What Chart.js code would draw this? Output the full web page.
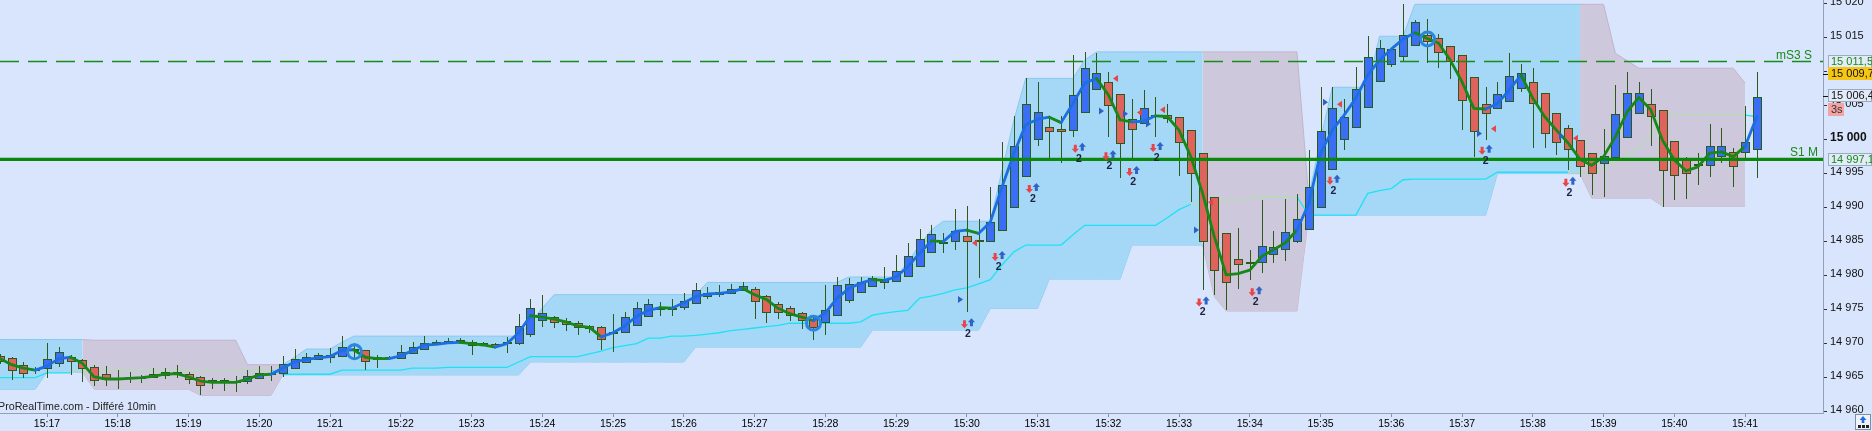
<!DOCTYPE html>
<html lang="fr">
<head>
<meta charset="utf-8">
<title>ProRealTime - 10s</title>
<script src="https://cdn.jsdelivr.net/npm/chart.js@4.4.1/dist/chart.umd.min.js"></script>
<style>
html,body{margin:0;padding:0;background:#d9e5fc;overflow:hidden;}
#box{position:relative;width:1872px;height:431px;}
canvas{display:block;}
</style>
</head>
<body>
<div id="box"><canvas id="chart" width="1872" height="431"></canvas></div>
<script>
const FONT = "'Liberation Sans', Arial, Helvetica, sans-serif";

// ---------- DATA ----------
const startTime = '15:16:20';
const stepSeconds = 10;
const timeTicks = ['15:17','15:18','15:19','15:20','15:21','15:22','15:23','15:24','15:25','15:26','15:27','15:28','15:29','15:30','15:31','15:32','15:33','15:34','15:35','15:36','15:37','15:38','15:39','15:40','15:41'];
const priceTicks = [14960,14965,14970,14975,14980,14985,14990,14995,15000,15005,15010,15015,15020];

const open = [
14968.2,14967.9,14966.9,14966.1,14966.2,14967.0,14968.1,14967.6,14966.6,14965.6,
14965.0,14964.9,14964.9,14964.9,14965.2,14965.7,14965.6,14965.1,14964.6,14964.6,
14964.4,14964.3,14964.8,14965.6,14965.5,14966.2,14967.1,14967.6,14967.9,14968.0,
14969.1,14969.1,14968.1,14967.9,14967.8,14968.5,14969.1,14969.9,14969.9,14970.2,
14970.2,14970.0,14969.9,14969.9,14970.0,14971.2,14973.3,14973.9,14973.4,14973.1,
14972.6,14972.4,14971.6,14971.5,14972.6,14973.9,14974.9,14975.0,14975.2,14975.8,
14976.8,14977.1,14977.3,14977.7,14978.0,14977.0,14975.8,14975.2,14974.5,14973.6,
14973.1,14974.0,14976.3,14977.5,14978.3,14978.9,14979.0,14979.8,14981.3,14983.4,
14984.8,14984.9,14985.8,14985.3,14985.0,14986.5,14989.9,14994.5,14999.9,15001.9,
15001.5,15001.3,15003.9,15007.3,15008.4,15006.7,15003.0,15002.3,15003.6,15003.6,
15003.3,15001.4,14998.1,14991.6,14986.2,14982.5,14982.0,14981.8,14983.1,14983.7,
14985.0,14986.7,14989.9,14995.6,15000.0,15001.7,15004.6,15008.4,15011.0,15012.1,
15013.8,15015.4,15014.9,15013.8,15012.5,15009.2,15005.2,15004.5,15005.6,15007.4,
15008.5,15006.9,15003.9,15001.7,15000.0,14998.0,14996.4,14997.3,15000.3,15003.8,
15005.3,15004.4,14999.8,14997.0,14996.3,14996.1,14997.5,14998.2,14998.0,14998.5];

const high = [
14968.5,14968.1,14967.3,14966.5,14970.1,14969.5,14968.3,14967.8,14966.8,14966.7,
14966.1,14965.8,14965.4,14966.4,14966.4,14966.9,14965.9,14965.3,14965.0,14964.9,
14965.2,14966.1,14966.7,14966.7,14968.2,14969.2,14968.6,14968.6,14969.3,14971.1,
14970.1,14969.1,14968.3,14968.2,14969.8,14970.3,14971.1,14970.5,14970.8,14970.8,
14970.6,14970.3,14970.1,14971.0,14974.4,14976.6,14977.2,14974.1,14973.7,14973.3,
14972.8,14972.6,14974.4,14974.6,14976.1,14976.6,14976.1,14976.5,14977.5,14978.9,
14978.3,14978.6,14978.7,14979.0,14978.3,14977.2,14976.1,14975.5,14974.6,14974.2,
14978.6,14979.8,14979.6,14979.8,14980.0,14981.3,14983.0,14984.8,14986.9,14987.5,
14986.2,14989.8,14990.2,14988.3,14993.1,14999.7,15003.5,15009.0,15008.4,15003.5,
15003.5,15012.4,15012.9,15012.7,15009.9,15006.7,15006.0,15007.3,15006.2,15005.2,
15003.3,15001.4,14998.1,14991.6,14986.2,14987.0,14983.8,14991.1,14986.6,14991.2,
14992.0,14998.5,15007.7,15007.7,15005.9,15010.7,15015.2,15014.6,15013.3,15019.9,
15017.6,15017.8,15015.6,15013.8,15012.5,15009.2,15007.7,15008.4,15012.7,15011.1,
15010.5,15006.9,15003.9,15002.2,15000.0,14998.0,15001.5,15008.0,15010.0,15008.5,
15007.4,15004.4,14999.8,14997.5,14998.0,15002.3,15001.7,14998.7,15004.9,15010.0];

const low = [
14967.0,14964.7,14965.0,14965.6,14965.0,14966.6,14965.4,14964.3,14963.8,14963.8,
14963.4,14964.2,14964.2,14964.9,14964.8,14965.0,14964.0,14962.4,14963.4,14963.0,
14962.9,14964.1,14964.8,14964.5,14965.1,14966.2,14967.1,14967.6,14967.2,14968.0,
14967.6,14966.1,14966.4,14967.6,14967.8,14968.5,14969.1,14969.9,14969.9,14970.0,
14968.4,14969.7,14969.3,14968.6,14969.8,14971.0,14972.5,14972.3,14971.8,14971.3,
14971.5,14969.1,14968.8,14971.5,14972.6,14973.9,14974.0,14974.0,14975.0,14975.8,
14976.6,14976.9,14977.3,14977.7,14973.6,14973.1,14973.6,14973.3,14972.1,14970.5,
14971.3,14974.0,14976.0,14977.5,14978.3,14978.0,14979.0,14979.8,14981.3,14983.4,
14983.3,14983.7,14974.7,14979.6,14985.0,14986.5,14989.9,14994.5,14999.1,14997.3,
14996.5,15000.4,15003.9,15007.3,15000.4,14994.3,14997.3,15002.3,15000.4,15002.5,
14994.7,14990.8,14977.9,14977.1,14975.0,14978.0,14979.4,14980.4,14981.8,14982.2,
14984.8,14986.7,14989.9,14995.6,14998.5,15001.7,15004.6,15008.4,15010.7,15011.5,
15013.8,15011.2,15010.6,15008.9,15001.4,14997.5,15000.0,15004.5,15005.6,15007.0,
14998.7,14998.7,14997.7,14995.5,14994.5,14991.9,14991.6,14997.3,15000.3,15003.8,
14999.1,14990.1,14991.1,14991.2,14993.3,14994.5,14996.5,14993.1,14997.1,14994.3];

const close = [
14967.3,14966.0,14965.6,14966.1,14967.7,14968.7,14967.3,14966.3,14964.5,14964.6,
14964.6,14964.9,14964.9,14965.6,14965.9,14965.7,14964.6,14963.8,14964.2,14964.2,
14964.2,14965.2,14965.7,14965.6,14967.0,14967.8,14968.1,14968.3,14968.4,14969.5,
14969.1,14967.3,14967.6,14967.9,14968.8,14969.5,14970.1,14970.2,14970.4,14970.4,
14969.7,14970.0,14969.5,14970.2,14972.6,14975.3,14974.5,14973.0,14972.8,14972.3,
14972.1,14970.5,14971.6,14973.9,14975.2,14975.8,14975.4,14975.3,14976.3,14977.9,
14977.4,14977.6,14978.0,14978.5,14976.1,14974.5,14974.5,14974.0,14973.3,14972.3,
14975.0,14978.6,14978.7,14979.1,14979.6,14979.4,14980.7,14982.9,14985.4,14986.1,
14984.8,14986.6,14985.0,14984.9,14987.9,14993.3,14999.0,15005.3,15004.0,15001.1,
15001.1,15006.5,15010.6,15009.8,15004.9,14999.4,15001.4,15004.7,15003.3,15003.0,
14999.5,14995.0,14985.0,14980.7,14978.9,14981.5,14981.7,14984.4,14984.2,14986.4,
14988.4,14993.0,15001.3,15004.6,15003.3,15007.5,15012.1,15013.4,15013.3,15015.4,
15017.3,15014.4,15012.8,15011.4,15005.7,15001.1,15003.7,15006.7,15009.4,15009.8,
15005.2,15000.8,14999.5,14998.5,14996.0,14994.9,14997.6,15003.7,15006.9,15006.9,
15003.3,14995.4,14994.6,14995.0,14996.3,14999.0,14999.0,14995.9,14999.6,15006.3];

const ma = [
14967.8,14966.9,14966.4,14966.1,14966.7,14967.8,14968.0,14967.1,14965.1,14964.8,
14964.8,14964.9,14965.0,14965.2,14965.5,14965.6,14965.1,14964.5,14964.3,14964.3,
14964.3,14964.8,14965.4,14965.5,14966.4,14967.3,14967.7,14967.9,14968.1,14969.0,
14969.1,14968.0,14967.8,14967.8,14968.2,14969.0,14969.8,14969.9,14970.1,14970.2,
14970.0,14969.8,14969.5,14970.0,14971.6,14974.1,14973.9,14973.6,14973.2,14972.6,
14972.4,14971.0,14971.6,14972.6,14974.0,14974.9,14975.3,14975.2,14976.0,14976.9,
14977.3,14977.4,14977.6,14978.1,14977.2,14976.5,14975.2,14974.4,14973.9,14973.4,
14974.5,14976.7,14978.1,14978.9,14979.4,14979.3,14979.8,14981.3,14983.3,14985.1,
14985.0,14986.5,14986.7,14986.2,14987.9,14993.1,14998.0,15002.2,15003.0,15003.3,
15002.5,15005.3,15008.3,15009.0,15006.6,15002.9,15002.6,15002.7,15003.5,15003.4,
15001.4,14997.5,14992.1,14985.7,14980.1,14980.3,14980.8,14982.8,14983.8,14984.8,
14986.7,14990.6,14998.0,15001.4,15003.6,15006.1,15009.5,15011.7,15013.3,15014.8,
15015.7,15014.9,15014.2,15011.7,15008.5,15004.6,15004.5,15005.3,15007.3,15009.5,
15006.1,15003.4,15001.4,14999.5,14997.1,14996.2,14997.5,15000.4,15004.1,15006.2,
15004.4,14999.9,14997.0,14995.4,14996.0,14998.0,14998.2,14997.5,14999.0,15003.4];

const bandTop = [
14970.6,14970.6,14970.6,14970.6,14970.6,14970.6,14970.6,14970.6,14970.5,14970.5,
14970.5,14970.5,14970.5,14970.5,14970.5,14970.5,14970.5,14970.5,14970.5,14970.5,
14970.5,14966.9,14966.9,14966.9,14966.9,14968.0,14969.2,14969.2,14969.2,14970.2,
14971.1,14971.1,14971.1,14971.1,14971.1,14971.1,14971.1,14971.1,14971.1,14971.1,
14971.1,14971.1,14971.1,14971.1,14971.1,14973.2,14975.2,14977.2,14977.2,14977.2,
14977.2,14977.2,14977.2,14977.2,14977.2,14977.2,14977.2,14977.2,14977.2,14977.2,
14979.0,14979.0,14979.0,14979.0,14979.0,14979.0,14979.0,14979.0,14979.0,14979.0,
14979.0,14979.0,14979.8,14979.8,14979.8,14979.8,14979.8,14982.0,14984.5,14986.7,
14988.0,14988.0,14988.0,14988.0,14988.0,14995.5,15002.9,15009.0,15009.0,15009.0,
15009.0,15009.0,15011.7,15012.9,15012.9,15012.9,15012.9,15012.9,15012.9,15012.9,
15012.9,15012.9,15012.9,15012.9,15012.9,15012.9,15012.9,15012.9,15012.9,15012.9,
15012.9,14991.6,15000.0,15007.7,15007.7,15007.7,15007.7,15015.2,15015.2,15015.2,
15019.9,15019.9,15019.9,15019.9,15019.9,15019.9,15019.9,15019.9,15019.9,15019.9,
15019.9,15019.9,15019.9,15019.9,15019.9,15019.9,15019.9,15012.7,15011.6,15010.5,
15010.5,15010.5,15010.5,15010.5,15010.5,15010.5,15010.5,15010.5,15008.3,null];

const bandBot = [
14963.3,14963.3,14963.3,14963.3,14965.8,14965.8,14965.8,14965.8,14963.3,14963.3,
14963.3,14963.3,14963.3,14963.3,14963.3,14963.3,14963.3,14962.4,14962.4,14962.4,
14962.4,14962.4,14962.4,14962.4,14965.4,14965.4,14965.4,14965.4,14965.4,14965.4,
14965.4,14965.4,14965.4,14965.4,14965.4,14965.4,14965.4,14965.4,14965.4,14965.4,
14965.4,14965.4,14965.4,14965.4,14965.4,14967.3,14967.3,14967.3,14967.3,14967.3,
14967.3,14967.3,14967.3,14967.3,14967.3,14967.3,14967.3,14967.3,14967.3,14969.5,
14969.5,14969.5,14969.5,14969.5,14969.5,14969.5,14969.5,14969.5,14969.5,14969.5,
14969.5,14969.5,14969.5,14969.5,14972.0,14972.0,14972.0,14972.0,14972.0,14972.0,
14972.0,14972.0,14972.0,14972.0,14975.2,14975.2,14975.2,14975.2,14975.2,14979.5,
14979.5,14979.5,14979.5,14979.5,14979.5,14979.5,14984.5,14984.5,14984.5,14984.5,
14984.5,14984.5,14984.5,14976.9,14974.8,14974.8,14974.8,14974.8,14974.8,14974.8,
14974.8,14988.9,14988.9,14988.9,14988.9,14988.9,14988.9,14988.9,14988.9,14988.9,
14988.9,14988.9,14988.9,14988.9,14988.9,14988.9,14988.9,14995.0,14995.0,14995.0,
14995.0,14995.0,14995.0,14995.0,14995.0,14991.4,14991.4,14991.4,14991.4,14991.4,
14991.4,14990.2,14990.2,14990.2,14990.2,14990.2,14990.2,14990.2,14990.2,null];

const stopLine = [
14965.0,14965.0,14965.0,14965.0,14965.7,14965.7,14965.7,14966.1,14966.1,14966.1,
14966.1,14966.1,14966.1,14966.1,14966.1,14966.1,14966.1,14966.1,14966.1,14966.1,
14966.1,14966.1,14966.1,14966.1,14965.5,14965.5,14965.5,14965.5,14965.5,14966.1,
14966.1,14966.1,14966.1,14966.1,14966.1,14966.4,14966.4,14966.4,14966.5,14966.5,
14966.5,14966.5,14966.5,14966.5,14967.3,14968.1,14968.1,14968.1,14968.1,14968.1,
14968.5,14968.9,14969.4,14969.7,14970.0,14970.8,14970.8,14971.1,14971.1,14971.2,
14971.4,14971.6,14971.9,14972.1,14972.3,14972.5,14972.7,14973.0,14973.0,14973.0,
14973.0,14973.0,14973.0,14973.2,14974.2,14974.5,14974.7,14974.9,14976.7,14977.0,
14977.4,14977.9,14978.2,14978.8,14979.4,14981.6,14983.5,14984.5,14984.5,14984.5,
14984.5,14986.0,14987.4,14987.4,14987.4,14987.4,14987.4,14987.4,14987.4,14988.5,
14989.7,14990.5,14990.6,14991.0,14991.0,14991.0,14991.4,14991.6,14991.6,14991.6,
14991.6,14988.9,14988.9,14988.9,14988.9,14988.9,14992.1,14992.5,14992.8,14994.1,
14994.2,14994.2,14994.2,14994.2,14994.2,14994.2,14994.2,14995.2,14995.2,14995.2,
14995.2,14995.2,14995.2,14995.2,14995.2,14995.0,14995.8,14996.6,14997.7,14998.9,
15000.5,15003.9,15003.6,15003.6,15003.6,15003.6,15003.6,15003.6,15003.6,15003.4];

const trendRuns = [['U',7],['D',17],['U',78],['D',9],['U',23],['D',15],['U',1]];

const levelS1M = 14997.1;
const levelMS3S = 15011.5;
const levelYellow = 15009.7;
const lastPrice = 15006.4;
const timerText = '3s';

const signalCandle = [82.1, 84.7, 87.6, 91.5, 94.1, 96.1, 98.1, 102.0, 106.5, 113.1, 126.0, 133.1];
const signalPrice  = [14973.0,14982.9,14992.9,14998.8,14997.7,14995.4,14998.9,14976.2,14977.7,14994.1,14998.5,14993.8];
const signalCount  = [2,2,2,2,2,2,2,2,2,2,2,2];

const longMarkCandle = [82, 94, 96, 98, 102, 113, 126, 133];
const longMarkPrice  = [14976.5,15004.2,15003.8,15002.3,14986.7,15005.5,15000.9,15000.5];
const shortMarkCandle = [82, 94, 96, 98, 102, 113, 126, 133];
const shortMarkPrice  = [14984.8,15009.0,15004.0,15004.4,14990.8,15005.2,15001.6,15000.2];

const circleCandle = [30, 69, 121];
const circlePrice  = [14968.8, 14973.0, 15014.8];

// ---------- HELPERS ----------
const trend = trendRuns.flatMap(([s, n]) => Array(n).fill(s));
const toSec = s => { const p = s.split(':').map(Number); return (p[0] - 15) * 3600 + p[1] * 60 + (p[2] || 0); };
const T0 = toSec(startTime);
const tx = i => T0 + i * stepSeconds;
const idx = close.map((_, i) => i);

function fmtPrice(v, dec) {
  const s = v.toFixed(dec || 0);
  const parts = s.split('.');
  const g = parts[0].replace(/\B(?=(\d{3})+(?!\d))/g, ' ');
  return parts[1] ? g + ',' + parts[1] : g;
}

const COL = {
  bg: '#d9e5fc',
  blueBand: '#a5d8f6', blueEdge: '#88c8ef',
  mauveBand: '#cec8dc', mauveEdge: '#c1b5cb',
  cyan: '#1ee2f4', paleGreen: '#b6dcb2',
  maUp: '#1c6fe2', maDn: '#178817',
  up: '#3a6ef5', dn: '#e0625c', edge: '#2c5a1c'
};

const inRegion = (i, s) => bandTop[i] != null && (trend[i] === s || (i > 0 && trend[i - 1] === s));
const bandData = (arr, s) => idx.map(i => ({ x: tx(i), y: inRegion(i, s) ? arr[i] : null }));

// ---------- DRAW HELPERS (through scales) ----------
function clipArea(ctx, a) { ctx.beginPath(); ctx.rect(a.left, a.top, a.right - a.left, a.bottom - a.top); ctx.clip(); }

function drawCandles(chart) {
  const { ctx, chartArea: a, scales: { x, y } } = chart;
  ctx.save(); clipArea(ctx, a);
  ctx.lineWidth = 1;
  for (let i = 0; i < close.length; i++) {
    const cx = Math.round(x.getPixelForValue(tx(i)));
    const yo = y.getPixelForValue(open[i]), yc = y.getPixelForValue(close[i]);
    const yh = y.getPixelForValue(high[i]), yl = y.getPixelForValue(low[i]);
    ctx.strokeStyle = COL.edge;
    ctx.beginPath(); ctx.moveTo(cx + 0.5, Math.round(yh)); ctx.lineTo(cx + 0.5, Math.round(yl)); ctx.stroke();
    const top = Math.round(Math.min(yo, yc)), bot = Math.round(Math.max(yo, yc));
    if (bot - top < 2) {
      ctx.fillStyle = COL.edge;
      ctx.fillRect(cx - 4, top - 1, 9, 2);
    } else {
      ctx.fillStyle = close[i] >= open[i] ? COL.up : COL.dn;
      ctx.fillRect(cx - 4, top, 9, bot - top);
      ctx.strokeRect(cx - 3.5, top + 0.5, 8, bot - top - 1);
    }
  }
  ctx.restore();
}

function drawLevels(chart) {
  const { ctx, chartArea: a, scales: { y } } = chart;
  ctx.save(); clipArea(ctx, a);
  const y1 = y.getPixelForValue(levelS1M);
  ctx.strokeStyle = '#0b870b'; ctx.lineWidth = 3.2;
  ctx.beginPath(); ctx.moveTo(a.left, y1); ctx.lineTo(a.right, y1); ctx.stroke();
  const y2 = Math.round(y.getPixelForValue(levelMS3S)) + 0.5;
  ctx.setLineDash([19, 9]); ctx.lineWidth = 1.4; ctx.strokeStyle = '#178c17';
  ctx.beginPath(); ctx.moveTo(a.left, y2); ctx.lineTo(a.right, y2); ctx.stroke();
  ctx.setLineDash([]);
  ctx.font = '12px ' + FONT; ctx.fillStyle = '#178a17'; ctx.textAlign = 'right'; ctx.textBaseline = 'alphabetic';
  ctx.fillText('mS3 S', a.right - 11, y2 - 3);
  ctx.fillText('S1 M', a.right - 5, y1 - 3);
  ctx.restore();
}

function arrow(ctx, cx, cy, dir, color) {
  const h = 4, hw = 3.6, sw = 1.5;
  ctx.fillStyle = color; ctx.beginPath();
  ctx.moveTo(cx - sw, cy - dir * h); ctx.lineTo(cx + sw, cy - dir * h); ctx.lineTo(cx + sw, cy);
  ctx.lineTo(cx + hw, cy); ctx.lineTo(cx, cy + dir * h); ctx.lineTo(cx - hw, cy); ctx.lineTo(cx - sw, cy);
  ctx.closePath(); ctx.fill();
}

function drawMarkers(chart) {
  const { ctx, chartArea: a, scales: { x, y } } = chart;
  ctx.save(); clipArea(ctx, a);
  ctx.strokeStyle = '#2b86e2'; ctx.lineWidth = 3;
  circleCandle.forEach((c, k) => {
    const px = Math.round(x.getPixelForValue(tx(c))) + 0.5, py = y.getPixelForValue(circlePrice[k]);
    ctx.beginPath(); ctx.arc(px, py, 7, 0, Math.PI * 2); ctx.stroke();
  });
  longMarkCandle.forEach((c, k) => {
    const px = Math.round(x.getPixelForValue(tx(c))), py = y.getPixelForValue(longMarkPrice[k]);
    ctx.fillStyle = '#2c60c6'; ctx.beginPath();
    ctx.moveTo(px - 4, py); ctx.lineTo(px - 9, py - 3.5); ctx.lineTo(px - 9, py + 3.5); ctx.closePath(); ctx.fill();
  });
  shortMarkCandle.forEach((c, k) => {
    const px = Math.round(x.getPixelForValue(tx(c))), py = y.getPixelForValue(shortMarkPrice[k]);
    ctx.fillStyle = '#e6464b'; ctx.beginPath();
    ctx.moveTo(px + 5, py); ctx.lineTo(px + 10, py - 3.5); ctx.lineTo(px + 10, py + 3.5); ctx.closePath(); ctx.fill();
  });
  ctx.font = 'bold 10.5px ' + FONT; ctx.textAlign = 'center'; ctx.textBaseline = 'middle';
  signalCandle.forEach((c, k) => {
    const px = x.getPixelForValue(tx(c)), py = y.getPixelForValue(signalPrice[k]);
    arrow(ctx, px - 3.5, py + 1, 1, '#e8454a');
    arrow(ctx, px + 3.5, py - 1, -1, '#2f63c8');
    ctx.fillStyle = '#1c2340';
    ctx.fillText(String(signalCount[k]), px, py + 11);
  });
  ctx.restore();
}

function tag(ctx, x0, w, yc, text, bg, fg, edge) {
  const h = 13, t = Math.round(yc - h / 2);
  ctx.fillStyle = bg; ctx.fillRect(x0, t, w, h);
  if (edge) { ctx.strokeStyle = edge; ctx.lineWidth = 1; ctx.strokeRect(x0 + 0.5, t + 0.5, w - 1, h - 1); }
  ctx.fillStyle = fg; ctx.textAlign = 'left'; ctx.textBaseline = 'middle';
  ctx.fillText(text, x0 + 3, t + h / 2 + 0.5);
}

function drawTags(chart) {
  const { ctx, chartArea: a, scales: { y } } = chart;
  ctx.save();
  ctx.font = '11px ' + FONT;
  const x0 = a.right + 5, w = chart.width - x0;
  ctx.strokeStyle = '#111'; ctx.lineWidth = 1;
  [levelYellow, lastPrice].forEach(v => {
    const py = Math.round(y.getPixelForValue(v)) + 0.5;
    ctx.beginPath(); ctx.moveTo(a.right, py); ctx.lineTo(a.right + 5, py); ctx.stroke();
  });
  tag(ctx, x0, w, y.getPixelForValue(levelMS3S), fmtPrice(levelMS3S, 1), '#e3ebf8', '#168a16', '#9aacbf');
  tag(ctx, x0, w, y.getPixelForValue(levelYellow), fmtPrice(levelYellow, 1), '#f6c615', '#111', null);
  const lp = y.getPixelForValue(lastPrice) - 1;
  tag(ctx, x0, w, lp, fmtPrice(lastPrice, 1), '#e3ebf8', '#111', '#9aacbf');
  tag(ctx, x0, 16, lp + 14, timerText, '#f4a3a3', '#333', null);
  tag(ctx, x0, w, y.getPixelForValue(levelS1M), fmtPrice(levelS1M, 1), '#e3ebf8', '#168a16', '#9aacbf');
  ctx.restore();
}

function drawFooter(chart) {
  const { ctx, chartArea: a } = chart;
  ctx.save();
  ctx.font = '10.7px ' + FONT; ctx.fillStyle = '#222'; ctx.textAlign = 'left'; ctx.textBaseline = 'middle';
  ctx.fillText('ProRealTime.com - Différé 10min', -2, a.bottom - 6);
  const ix = chart.width - 17, iy = chart.height - 17;
  ctx.fillStyle = '#eef3fb'; ctx.fillRect(ix, iy, 16, 16);
  ctx.strokeStyle = '#7d8fa3'; ctx.lineWidth = 1; ctx.strokeRect(ix + 0.5, iy + 0.5, 15, 15);
  ctx.fillStyle = '#1f6fe0';
  ctx.beginPath(); ctx.moveTo(ix + 8, iy + 2); ctx.lineTo(ix + 11.5, iy + 6); ctx.lineTo(ix + 9.3, iy + 6);
  ctx.lineTo(ix + 9.3, iy + 9); ctx.lineTo(ix + 6.7, iy + 9); ctx.lineTo(ix + 6.7, iy + 6); ctx.lineTo(ix + 4.5, iy + 6); ctx.closePath(); ctx.fill();
  ctx.fillStyle = '#222';
  [3, 7, 11].forEach(d => ctx.fillRect(ix + d, iy + 11, 3, 3));
  ctx.restore();
}

const overlay = {
  id: 'overlay',
  beforeDraw(chart) { const { ctx, width, height } = chart; ctx.save(); ctx.fillStyle = COL.bg; ctx.fillRect(0, 0, width, height); ctx.restore(); },
  beforeDatasetDraw(chart, args) { if (args.index === 0) drawCandles(chart); },
  afterDatasetsDraw(chart) { drawLevels(chart); drawMarkers(chart); },
  afterDraw(chart) { drawTags(chart); drawFooter(chart); }
};

// ---------- CHART ----------
Chart.defaults.font.family = FONT;
const xMin = 980.14, xMax = 2526.1;
const yMin = 14959.8, yMax = 15020.53;

new Chart(document.getElementById('chart'), {
  type: 'line',
  data: {
    datasets: [
      { label: 'ma', data: idx.map(i => ({ x: tx(i), y: ma[i] })), borderWidth: 2.8, pointRadius: 0, order: 1, fill: false,
        borderCapStyle: 'round', borderJoinStyle: 'round',
        segment: { borderColor: c => (c.p1.parsed.y > c.p0.parsed.y && trend[c.p1DataIndex] === 'U') ? COL.maUp : COL.maDn } },
      { label: 'stop', data: idx.map(i => ({ x: tx(i), y: stopLine[i] })), borderWidth: 1.3, pointRadius: 0, order: 2, fill: false,
        segment: { borderColor: c => trend[c.p1DataIndex] === 'D' ? COL.paleGreen : COL.cyan } },
      { label: 'mauveBot', data: bandData(bandBot, 'D'), borderColor: COL.mauveEdge, borderWidth: 1, pointRadius: 0, order: 10, fill: false },
      { label: 'mauveTop', data: bandData(bandTop, 'D'), borderColor: COL.mauveEdge, borderWidth: 1, pointRadius: 0, order: 9, fill: '-1', backgroundColor: COL.mauveBand },
      { label: 'blueBot', data: bandData(bandBot, 'U'), borderColor: COL.blueEdge, borderWidth: 1, pointRadius: 0, order: 12, fill: false },
      { label: 'blueTop', data: bandData(bandTop, 'U'), borderColor: COL.blueEdge, borderWidth: 1, pointRadius: 0, order: 11, fill: '-1', backgroundColor: COL.blueBand }
    ]
  },
  options: {
    responsive: false, animation: false, devicePixelRatio: 1,
    layout: { padding: 0 },
    spanGaps: false,
    elements: { line: { tension: 0 } },
    plugins: { legend: { display: false }, tooltip: { enabled: false } },
    events: [],
    scales: {
      x: {
        type: 'linear', position: 'bottom', min: xMin, max: xMax,
        grid: { display: true, drawOnChartArea: false, drawTicks: true, tickLength: 4, color: '#7f93a8' },
        border: { display: true, color: '#8fa3b8' },
        ticks: { autoSkip: false, maxRotation: 0, minRotation: 0, padding: 1, color: '#000', font: { size: 10.5 },
          callback: (v, i) => timeTicks[i] },
        afterBuildTicks: s => { s.ticks = timeTicks.map(l => ({ value: toSec(l) })); },
        afterFit: s => { s.height = 18; s.paddingLeft = 0; s.paddingRight = 0; }
      },
      y: {
        type: 'linear', position: 'right', min: yMin, max: yMax,
        grid: { display: true, drawOnChartArea: false, drawTicks: true, tickLength: 4, color: '#333' },
        border: { display: true, color: '#8fa3b8' },
        ticks: { autoSkip: false, padding: 3, labelOffset: -2, color: '#111',
          font: c => (c.tick && c.tick.value === 15000) ? { size: 12, weight: 'bold' } : { size: 11 },
          callback: v => fmtPrice(v, 0) },
        afterBuildTicks: s => { s.ticks = priceTicks.map(v => ({ value: v })); },
        afterFit: s => { s.width = 49; s.paddingTop = 0; s.paddingBottom = 0; }
      }
    }
  },
  plugins: [overlay]
});
</script>
</body>
</html>
